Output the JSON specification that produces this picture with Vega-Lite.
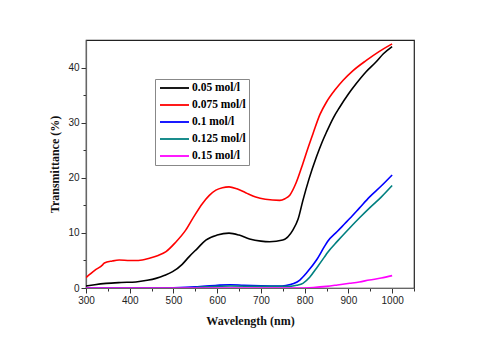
{
  "$schema": "https://vega.github.io/schema/vega-lite/v6.json",
  "width": 328,
  "height": 248,
  "autosize": {"type": "none"},
  "padding": {"left": 86, "top": 40, "right": 66, "bottom": 58},
  "background": "white",
  "view": {"stroke": "#222", "strokeWidth": 1.2},
  "datasets": {
    "d": [
      {"wl":300,"T":0.35,"c":"0.05 mol/l"},{"wl":320,"T":0.6,"c":"0.05 mol/l"},{"wl":346,"T":0.84,"c":"0.05 mol/l"},{"wl":380,"T":1.0,"c":"0.05 mol/l"},{"wl":414,"T":1.1,"c":"0.05 mol/l"},{"wl":440,"T":1.4,"c":"0.05 mol/l"},{"wl":460,"T":1.75,"c":"0.05 mol/l"},{"wl":480,"T":2.3,"c":"0.05 mol/l"},{"wl":498,"T":2.96,"c":"0.05 mol/l"},{"wl":520,"T":4.3,"c":"0.05 mol/l"},{"wl":536,"T":5.7,"c":"0.05 mol/l"},{"wl":555,"T":7.2,"c":"0.05 mol/l"},{"wl":574,"T":8.7,"c":"0.05 mol/l"},{"wl":600,"T":9.6,"c":"0.05 mol/l"},{"wl":627,"T":9.95,"c":"0.05 mol/l"},{"wl":650,"T":9.6,"c":"0.05 mol/l"},{"wl":674,"T":8.9,"c":"0.05 mol/l"},{"wl":700,"T":8.5,"c":"0.05 mol/l"},{"wl":720,"T":8.4,"c":"0.05 mol/l"},{"wl":750,"T":8.7,"c":"0.05 mol/l"},{"wl":773,"T":10.5,"c":"0.05 mol/l"},{"wl":785,"T":12.5,"c":"0.05 mol/l"},{"wl":796,"T":15.9,"c":"0.05 mol/l"},{"wl":810,"T":19.8,"c":"0.05 mol/l"},{"wl":827,"T":23.8,"c":"0.05 mol/l"},{"wl":840,"T":26.5,"c":"0.05 mol/l"},{"wl":850,"T":28.3,"c":"0.05 mol/l"},{"wl":865,"T":30.8,"c":"0.05 mol/l"},{"wl":880,"T":32.8,"c":"0.05 mol/l"},{"wl":900,"T":35.2,"c":"0.05 mol/l"},{"wl":918,"T":37.1,"c":"0.05 mol/l"},{"wl":940,"T":39.2,"c":"0.05 mol/l"},{"wl":963,"T":41.0,"c":"0.05 mol/l"},{"wl":980,"T":42.5,"c":"0.05 mol/l"},{"wl":1000,"T":43.8,"c":"0.05 mol/l"},

      {"wl":300,"T":1.9,"c":"0.075 mol/l"},{"wl":320,"T":3.2,"c":"0.075 mol/l"},{"wl":338,"T":4.2,"c":"0.075 mol/l"},{"wl":342,"T":4.55,"c":"0.075 mol/l"},{"wl":360,"T":4.9,"c":"0.075 mol/l"},{"wl":376,"T":5.07,"c":"0.075 mol/l"},{"wl":400,"T":5.0,"c":"0.075 mol/l"},{"wl":420,"T":5.0,"c":"0.075 mol/l"},{"wl":445,"T":5.4,"c":"0.075 mol/l"},{"wl":465,"T":5.9,"c":"0.075 mol/l"},{"wl":483,"T":6.6,"c":"0.075 mol/l"},{"wl":505,"T":8.3,"c":"0.075 mol/l"},{"wl":528,"T":10.5,"c":"0.075 mol/l"},{"wl":547,"T":13.0,"c":"0.075 mol/l"},{"wl":566,"T":15.3,"c":"0.075 mol/l"},{"wl":582,"T":16.8,"c":"0.075 mol/l"},{"wl":597,"T":17.75,"c":"0.075 mol/l"},{"wl":612,"T":18.2,"c":"0.075 mol/l"},{"wl":627,"T":18.35,"c":"0.075 mol/l"},{"wl":645,"T":18.0,"c":"0.075 mol/l"},{"wl":665,"T":17.3,"c":"0.075 mol/l"},{"wl":688,"T":16.5,"c":"0.075 mol/l"},{"wl":710,"T":16.1,"c":"0.075 mol/l"},{"wl":743,"T":15.9,"c":"0.075 mol/l"},{"wl":755,"T":16.2,"c":"0.075 mol/l"},{"wl":766,"T":16.85,"c":"0.075 mol/l"},{"wl":780,"T":19.0,"c":"0.075 mol/l"},{"wl":796,"T":22.6,"c":"0.075 mol/l"},{"wl":808,"T":25.5,"c":"0.075 mol/l"},{"wl":819,"T":28.0,"c":"0.075 mol/l"},{"wl":835,"T":31.5,"c":"0.075 mol/l"},{"wl":850,"T":33.75,"c":"0.075 mol/l"},{"wl":870,"T":36.0,"c":"0.075 mol/l"},{"wl":888,"T":37.7,"c":"0.075 mol/l"},{"wl":910,"T":39.4,"c":"0.075 mol/l"},{"wl":941,"T":41.3,"c":"0.075 mol/l"},{"wl":970,"T":42.9,"c":"0.075 mol/l"},{"wl":1000,"T":44.3,"c":"0.075 mol/l"},

      {"wl":300,"T":0,"c":"0.1 mol/l"},{"wl":450,"T":0,"c":"0.1 mol/l"},{"wl":500,"T":0.05,"c":"0.1 mol/l"},{"wl":550,"T":0.2,"c":"0.1 mol/l"},{"wl":600,"T":0.5,"c":"0.1 mol/l"},{"wl":630,"T":0.6,"c":"0.1 mol/l"},{"wl":660,"T":0.5,"c":"0.1 mol/l"},{"wl":700,"T":0.4,"c":"0.1 mol/l"},{"wl":740,"T":0.35,"c":"0.1 mol/l"},{"wl":757,"T":0.45,"c":"0.1 mol/l"},{"wl":775,"T":0.8,"c":"0.1 mol/l"},{"wl":789,"T":1.45,"c":"0.1 mol/l"},{"wl":805,"T":2.8,"c":"0.1 mol/l"},{"wl":827,"T":5.07,"c":"0.1 mol/l"},{"wl":845,"T":7.5,"c":"0.1 mol/l"},{"wl":852,"T":8.4,"c":"0.1 mol/l"},{"wl":875,"T":10.3,"c":"0.1 mol/l"},{"wl":903,"T":12.6,"c":"0.1 mol/l"},{"wl":925,"T":14.5,"c":"0.1 mol/l"},{"wl":948,"T":16.5,"c":"0.1 mol/l"},{"wl":975,"T":18.5,"c":"0.1 mol/l"},{"wl":1000,"T":20.5,"c":"0.1 mol/l"},

      {"wl":300,"T":0,"c":"0.125 mol/l"},{"wl":500,"T":0,"c":"0.125 mol/l"},{"wl":550,"T":0.1,"c":"0.125 mol/l"},{"wl":600,"T":0.3,"c":"0.125 mol/l"},{"wl":630,"T":0.35,"c":"0.125 mol/l"},{"wl":700,"T":0.3,"c":"0.125 mol/l"},{"wl":766,"T":0.3,"c":"0.125 mol/l"},{"wl":782,"T":0.5,"c":"0.125 mol/l"},{"wl":796,"T":0.85,"c":"0.125 mol/l"},{"wl":812,"T":2.0,"c":"0.125 mol/l"},{"wl":827,"T":3.6,"c":"0.125 mol/l"},{"wl":845,"T":5.6,"c":"0.125 mol/l"},{"wl":852,"T":6.4,"c":"0.125 mol/l"},{"wl":875,"T":8.5,"c":"0.125 mol/l"},{"wl":903,"T":10.9,"c":"0.125 mol/l"},{"wl":925,"T":12.7,"c":"0.125 mol/l"},{"wl":948,"T":14.5,"c":"0.125 mol/l"},{"wl":975,"T":16.5,"c":"0.125 mol/l"},{"wl":1000,"T":18.6,"c":"0.125 mol/l"},

      {"wl":300,"T":0,"c":"0.15 mol/l"},{"wl":780,"T":0,"c":"0.15 mol/l"},{"wl":820,"T":0.1,"c":"0.15 mol/l"},{"wl":850,"T":0.3,"c":"0.15 mol/l"},{"wl":875,"T":0.55,"c":"0.15 mol/l"},{"wl":903,"T":0.85,"c":"0.15 mol/l"},{"wl":925,"T":1.1,"c":"0.15 mol/l"},{"wl":948,"T":1.45,"c":"0.15 mol/l"},{"wl":975,"T":1.8,"c":"0.15 mol/l"},{"wl":1000,"T":2.25,"c":"0.15 mol/l"}
    ]
  },
  "data": {"name": "d"},
  "mark": {"type": "line", "strokeWidth": 1.6, "interpolate": "monotone", "clip": true},
  "encoding": {
    "x": {
      "field": "wl", "type": "quantitative",
      "scale": {"domain": [300, 1050], "nice": false, "zero": false},
      "axis": {
        "title": "Wavelength (nm)",
        "values": [300,350,400,450,500,550,600,650,700,750,800,850,900,950,1000,1050],
        "format": "d",
        "labelExpr": "datum.value % 100 == 0 && datum.value <= 1000 ? datum.label : ''",
        "grid": false, "domainColor": "#666", "domainWidth": 1.2, "tickColor": "#333",
        "tickSize": {"condition": {"test": "datum.value % 100 == 0", "value": 5}, "value": 3},
        "labelFont": "Liberation Sans", "labelFontSize": 10, "labelColor": "#222", "labelPadding": 2, "labelFlush": false,
        "titleFont": "Liberation Serif", "titleFontSize": 12, "titleFontWeight": "bold", "titleColor": "#111", "titlePadding": 10
      }
    },
    "y": {
      "field": "T", "type": "quantitative",
      "scale": {"domain": [0, 45], "nice": false},
      "axis": {
        "title": "Transmittance (%)",
        "values": [0,5,10,15,20,25,30,35,40],
        "labelExpr": "datum.value % 10 == 0 ? datum.label : ''",
        "grid": false, "domainColor": "#666", "domainWidth": 1.2, "tickColor": "#333",
        "tickSize": {"condition": {"test": "datum.value % 10 == 0", "value": 5}, "value": 3},
        "labelFont": "Liberation Sans", "labelFontSize": 10, "labelColor": "#222", "labelPadding": 2,
        "titleFont": "Liberation Serif", "titleFontSize": 12, "titleFontWeight": "bold", "titleColor": "#111", "titlePadding": 6
      }
    },
    "color": {
      "field": "c", "type": "nominal",
      "scale": {
        "domain": ["0.05 mol/l", "0.075 mol/l", "0.1 mol/l", "0.125 mol/l", "0.15 mol/l"],
        "range": ["#000000", "#ff0000", "#0000ff", "#008080", "#ff00ff"]
      },
      "legend": {
        "title": null, "orient": "none", "legendX": 69, "legendY": 39,
        "symbolType": "M-0.8,0H5", "symbolStrokeWidth": 1.8, "symbolSize": 100,
        "rowPadding": 5, "padding": 3, "labelOffset": 22,
        "labelFont": "Liberation Serif", "labelFontSize": 11.5, "labelFontWeight": "bold", "labelColor": "#000",
        "strokeColor": "#888", "fillColor": "white"
      }
    }
  }
}
